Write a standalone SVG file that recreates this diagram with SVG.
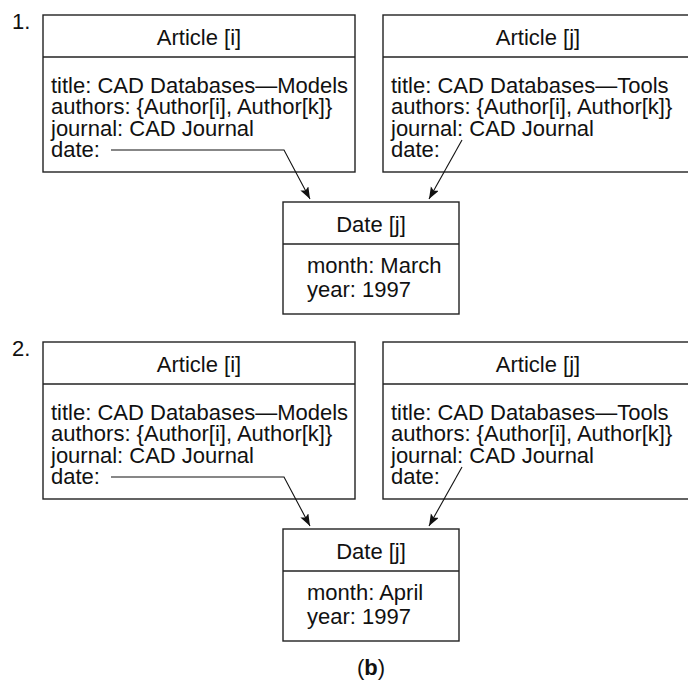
<svg xmlns="http://www.w3.org/2000/svg" width="688" height="680" viewBox="0 0 688 680">
<style>
  text { font-family: "Liberation Sans", Arial, Helvetica, sans-serif; font-size: 22px; fill: #111; }
  .c { text-anchor: middle; }
  .box { fill: #fff; stroke: #222; stroke-width: 1.4; }
  .div { stroke: #222; stroke-width: 1.4; }
  .conn { fill: none; stroke: #111; stroke-width: 1.1; }
</style>
<defs>
  <marker id="ah" markerUnits="userSpaceOnUse" markerWidth="13" markerHeight="10" refX="12" refY="4.5" orient="auto">
    <path d="M0,0 L12,4.5 L0,9 L2.5,4.5 z" fill="#111"/>
  </marker>
</defs>
<rect width="688" height="680" fill="#fff"/>

<!-- Panel 1 -->
<text x="12" y="29">1.</text>
<g id="p1-article-i">
  <rect class="box" x="43" y="15" width="312" height="157"/>
  <line class="div" x1="43" y1="57" x2="355" y2="57"/>
  <text class="c" x="199" y="45">Article [i]</text>
  <text x="51" y="93">title: CAD Databases—Models</text>
  <text x="51" y="114.3">authors: {Author[i], Author[k]}</text>
  <text x="51" y="135.6">journal: CAD Journal</text>
  <text x="51" y="157">date:</text>
</g>
<g id="p1-article-j">
  <rect class="box" x="383" y="15" width="312" height="157"/>
  <line class="div" x1="383" y1="57" x2="695" y2="57"/>
  <text class="c" x="538" y="45">Article [j]</text>
  <text x="391" y="93">title: CAD Databases—Tools</text>
  <text x="391" y="114.3">authors: {Author[i], Author[k]}</text>
  <text x="391" y="135.6">journal: CAD Journal</text>
  <text x="391" y="157">date:</text>
</g>
<g id="p1-date-j">
  <rect class="box" x="283" y="202" width="176" height="112"/>
  <line class="div" x1="283" y1="244" x2="459" y2="244"/>
  <text class="c" x="371" y="232">Date [j]</text>
  <text x="307" y="273">month: March</text>
  <text x="307" y="297">year: 1997</text>
</g>

<!-- Panel 2 -->
<text x="12" y="356">2.</text>
<g id="p2-article-i">
  <rect class="box" x="43" y="342" width="312" height="157"/>
  <line class="div" x1="43" y1="384" x2="355" y2="384"/>
  <text class="c" x="199" y="372">Article [i]</text>
  <text x="51" y="420">title: CAD Databases—Models</text>
  <text x="51" y="441.3">authors: {Author[i], Author[k]}</text>
  <text x="51" y="462.6">journal: CAD Journal</text>
  <text x="51" y="484">date:</text>
</g>
<g id="p2-article-j">
  <rect class="box" x="383" y="342" width="312" height="157"/>
  <line class="div" x1="383" y1="384" x2="695" y2="384"/>
  <text class="c" x="538" y="372">Article [j]</text>
  <text x="391" y="420">title: CAD Databases—Tools</text>
  <text x="391" y="441.3">authors: {Author[i], Author[k]}</text>
  <text x="391" y="462.6">journal: CAD Journal</text>
  <text x="391" y="484">date:</text>
</g>
<g id="p2-date-j">
  <rect class="box" x="283" y="529" width="176" height="112"/>
  <line class="div" x1="283" y1="571" x2="459" y2="571"/>
  <text class="c" x="371" y="559">Date [j]</text>
  <text x="307" y="600">month: April</text>
  <text x="307" y="624">year: 1997</text>
</g>

<g id="connectors">
  <path class="conn" d="M111,150 L284,150 L310,199" marker-end="url(#ah)"/>
  <path class="conn" d="M462,140 L429,199" marker-end="url(#ah)"/>
  <path class="conn" d="M111,477 L284,477 L310,526" marker-end="url(#ah)"/>
  <path class="conn" d="M462,467 L429,526" marker-end="url(#ah)"/>
</g>

<text class="c" x="371" y="675">(<tspan font-weight="bold">b</tspan>)</text>
</svg>
